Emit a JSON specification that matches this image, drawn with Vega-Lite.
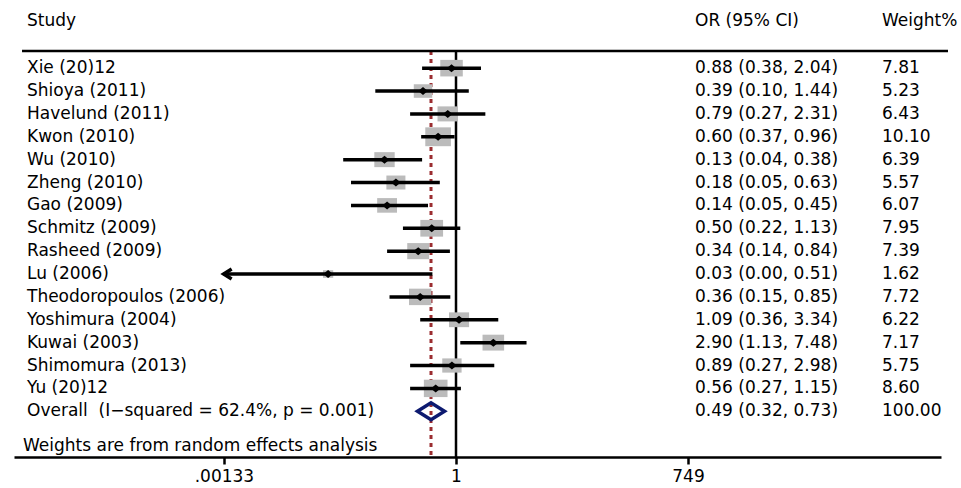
{
  "$schema": "https://vega.github.io/schema/vega-lite/v6.json",
  "autosize": {"type": "none"},
  "width": 927,
  "height": 406,
  "padding": {"left": 14, "right": 20, "top": 51, "bottom": 31},
  "background": "white",
  "config": {
    "view": {"stroke": null},
    "text": {"font": "DejaVu Sans", "fontSize": 17, "color": "black"},
    "axisX": {"grid": false, "domain": true, "domainColor": "black", "domainWidth": 2.5,
      "ticks": true, "tickColor": "black", "tickWidth": 2.5, "tickSize": 7,
      "labelFont": "DejaVu Sans", "labelFontSize": 17, "labelColor": "black", "labelPadding": 4}
  },
  "data": {"values": [
    {"row": 1, "study": "Xie (20)12", "or": 0.88, "lo": 0.38, "hi": 2.04, "weight": 7.81, "ci": "0.88 (0.38, 2.04)", "type": "study"},
    {"row": 2, "study": "Shioya (2011)", "or": 0.39, "lo": 0.10, "hi": 1.44, "weight": 5.23, "ci": "0.39 (0.10, 1.44)", "type": "study"},
    {"row": 3, "study": "Havelund (2011)", "or": 0.79, "lo": 0.27, "hi": 2.31, "weight": 6.43, "ci": "0.79 (0.27, 2.31)", "type": "study"},
    {"row": 4, "study": "Kwon (2010)", "or": 0.60, "lo": 0.37, "hi": 0.96, "weight": 10.10, "ci": "0.60 (0.37, 0.96)", "type": "study"},
    {"row": 5, "study": "Wu (2010)", "or": 0.13, "lo": 0.04, "hi": 0.38, "weight": 6.39, "ci": "0.13 (0.04, 0.38)", "type": "study"},
    {"row": 6, "study": "Zheng (2010)", "or": 0.18, "lo": 0.05, "hi": 0.63, "weight": 5.57, "ci": "0.18 (0.05, 0.63)", "type": "study"},
    {"row": 7, "study": "Gao (2009)", "or": 0.14, "lo": 0.05, "hi": 0.45, "weight": 6.07, "ci": "0.14 (0.05, 0.45)", "type": "study"},
    {"row": 8, "study": "Schmitz (2009)", "or": 0.50, "lo": 0.22, "hi": 1.13, "weight": 7.95, "ci": "0.50 (0.22, 1.13)", "type": "study"},
    {"row": 9, "study": "Rasheed (2009)", "or": 0.34, "lo": 0.14, "hi": 0.84, "weight": 7.39, "ci": "0.34 (0.14, 0.84)", "type": "study"},
    {"row": 10, "study": "Lu (2006)", "or": 0.026, "lo": 0.00132, "hi": 0.51, "weight": 1.62, "ci": "0.03 (0.00, 0.51)", "type": "study"},
    {"row": 11, "study": "Theodoropoulos (2006)", "or": 0.36, "lo": 0.15, "hi": 0.85, "weight": 7.72, "ci": "0.36 (0.15, 0.85)", "type": "study"},
    {"row": 12, "study": "Yoshimura (2004)", "or": 1.09, "lo": 0.36, "hi": 3.34, "weight": 6.22, "ci": "1.09 (0.36, 3.34)", "type": "study"},
    {"row": 13, "study": "Kuwai (2003)", "or": 2.90, "lo": 1.13, "hi": 7.48, "weight": 7.17, "ci": "2.90 (1.13, 7.48)", "type": "study"},
    {"row": 14, "study": "Shimomura (2013)", "or": 0.89, "lo": 0.27, "hi": 2.98, "weight": 5.75, "ci": "0.89 (0.27, 2.98)", "type": "study"},
    {"row": 15, "study": "Yu (20)12", "or": 0.56, "lo": 0.27, "hi": 1.15, "weight": 8.60, "ci": "0.56 (0.27, 1.15)", "type": "study"},
    {"row": 16, "study": "Overall\u00a0 (I\u2212squared = 62.4%, p = 0.001)", "or": 0.49, "lo": 0.32, "hi": 0.73, "weight": 100.00, "ci": "0.49 (0.32, 0.73)", "type": "overall"}
  ]},
  "encoding": {
    "x": {"type": "quantitative", "title": null,
      "scale": {"type": "log", "domain": [3.333e-6, 1.023e6], "nice": false},
      "axis": {"values": [0.00133, 1, 749], "title": null,
        "labelExpr": "datum.value < 0.01 ? '.00133' : format(datum.value, 'd')"}},
    "y": {"type": "quantitative", "title": null,
      "scale": {"domain": [0.25, 18], "reverse": true, "nice": false, "zero": false},
      "axis": null}
  },
  "layer": [
    {
      "transform": [{"filter": "datum.type == 'overall'"}],
      "mark": {"type": "rule", "color": "#9b2d30", "strokeWidth": 3, "strokeDash": [4, 4]},
      "encoding": {
        "x": {"field": "or", "type": "quantitative", "title": null},
        "y": null
      }
    },
    {
      "data": {"values": [{"ref": 1}]},
      "mark": {"type": "rule", "color": "black", "strokeWidth": 2.5},
      "encoding": {"x": {"field": "ref", "type": "quantitative", "title": null}, "y": null}
    },
    {
      "data": {"values": [{"h": "line"}]},
      "mark": {"type": "rule", "color": "black", "strokeWidth": 2.5},
      "encoding": {
        "x": {"datum": 4.19e-6, "type": "quantitative", "title": null},
        "x2": {"datum": 1.249e6},
        "y": {"datum": 0.25, "type": "quantitative", "title": null}
      }
    },
    {
      "transform": [{"filter": "datum.type == 'study'"}],
      "mark": {"type": "point", "shape": "M-1.36,-1L1.36,-1L1.36,1L-1.36,1Z", "filled": true, "color": "#bbbbbb", "opacity": 1},
      "encoding": {
        "x": {"field": "or", "type": "quantitative", "title": null},
        "y": {"field": "row", "type": "quantitative", "title": null},
        "size": {"field": "weight", "type": "quantitative", "scale": {"domain": [0, 10.1], "range": [0, 355], "zero": true}, "legend": null}
      }
    },
    {
      "transform": [{"filter": "datum.type == 'study'"}],
      "mark": {"type": "rule", "color": "black", "strokeWidth": 3.5},
      "encoding": {
        "x": {"field": "lo", "type": "quantitative", "title": null},
        "x2": {"field": "hi", "title": null},
        "y": {"field": "row", "type": "quantitative", "title": null}
      }
    },
    {
      "transform": [{"filter": "datum.type == 'study' && datum.lo < 0.00133"}],
      "mark": {"type": "point", "shape": "M1.6,-1L0,0L1.6,1", "filled": false, "color": "black", "strokeWidth": 3.5, "size": 100, "opacity": 1},
      "encoding": {
        "x": {"field": "lo", "type": "quantitative", "title": null},
        "y": {"field": "row", "type": "quantitative", "title": null}
      }
    },
    {
      "transform": [{"filter": "datum.type == 'study'"}],
      "mark": {"type": "point", "shape": "M-1.2,0L0,-1L1.2,0L0,1Z", "filled": true, "color": "black", "size": 64, "opacity": 1},
      "encoding": {
        "x": {"field": "or", "type": "quantitative", "title": null},
        "y": {"field": "row", "type": "quantitative", "title": null}
      }
    },
    {
      "transform": [{"filter": "datum.type == 'overall'"}],
      "mark": {"type": "point", "shape": "M-1.59,0L0,-1L1.59,0L0,1Z", "filled": false, "color": "#0d1a70", "strokeWidth": 3.5, "size": 289, "opacity": 1},
      "encoding": {
        "x": {"field": "or", "type": "quantitative", "title": null},
        "y": {"field": "row", "type": "quantitative", "title": null}
      }
    },
    {
      "mark": {"type": "text", "align": "left", "baseline": "middle"},
      "encoding": {
        "x": {"datum": 4.83e-6, "type": "quantitative", "title": null},
        "y": {"field": "row", "type": "quantitative", "title": null},
        "text": {"field": "study"}
      }
    },
    {
      "mark": {"type": "text", "align": "left", "baseline": "middle"},
      "encoding": {
        "x": {"datum": 915.5, "type": "quantitative", "title": null},
        "y": {"field": "row", "type": "quantitative", "title": null},
        "text": {"field": "ci"}
      }
    },
    {
      "mark": {"type": "text", "align": "left", "baseline": "middle"},
      "encoding": {
        "x": {"datum": 1.9e5, "type": "quantitative", "title": null},
        "y": {"field": "row", "type": "quantitative", "title": null},
        "text": {"field": "weight", "type": "quantitative", "format": ".2f"}
      }
    },
    {
      "data": {"values": [{"h": "Study"}]},
      "mark": {"type": "text", "align": "left", "baseline": "middle"},
      "encoding": {
        "x": {"datum": 4.83e-6, "type": "quantitative", "title": null},
        "y": {"datum": -1.06, "type": "quantitative", "title": null},
        "text": {"field": "h"}
      }
    },
    {
      "data": {"values": [{"h": "OR (95% CI)"}]},
      "mark": {"type": "text", "align": "left", "baseline": "middle"},
      "encoding": {
        "x": {"datum": 915.5, "type": "quantitative", "title": null},
        "y": {"datum": -1.06, "type": "quantitative", "title": null},
        "text": {"field": "h"}
      }
    },
    {
      "data": {"values": [{"h": "Weight%"}]},
      "mark": {"type": "text", "align": "left", "baseline": "middle"},
      "encoding": {
        "x": {"datum": 1.9e5, "type": "quantitative", "title": null},
        "y": {"datum": -1.06, "type": "quantitative", "title": null},
        "text": {"field": "h"}
      }
    },
    {
      "data": {"values": [{"h": "Weights are from random effects analysis"}]},
      "mark": {"type": "text", "align": "left", "baseline": "middle"},
      "encoding": {
        "x": {"datum": 4.31e-6, "type": "quantitative", "title": null},
        "y": {"datum": 17.5, "type": "quantitative", "title": null},
        "text": {"field": "h"}
      }
    }
  ]
}
